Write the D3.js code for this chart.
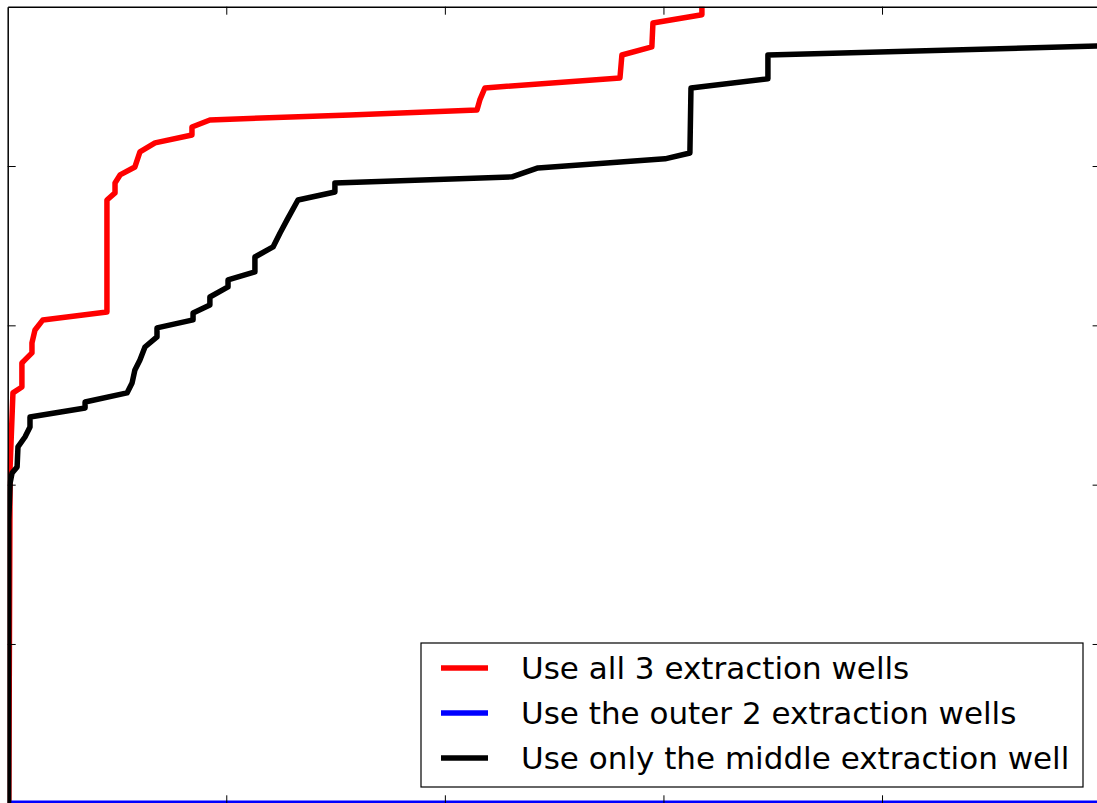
<!DOCTYPE html>
<html>
<head>
<meta charset="utf-8">
<script src="https://cdn.jsdelivr.net/npm/d3@7"></script>
<style>
  body { margin: 0; background: #fff; }
  svg { display: block; font-family: "DejaVu Sans", sans-serif; }
</style>
</head>
<body>
<div id="chartContainer"></div>
<script>
// series values (x, y in axis units 0..5)
const redX = [0.005, 0.011, 0.024, 0.065, 0.065, 0.079, 0.111, 0.111, 0.125, 0.161, 0.454, 0.454, 0.491, 0.491, 0.514, 0.582, 0.605, 0.674, 0.843, 0.843, 0.925, 1.566, 2.147, 2.160, 2.183, 2.801, 2.810, 2.947, 2.952, 3.176, 3.176];
const redY = [0, 2.111, 2.576, 2.613, 2.764, 2.783, 2.827, 2.890, 2.971, 3.034, 3.084, 3.787, 3.831, 3.894, 3.944, 3.994, 4.089, 4.145, 4.195, 4.245, 4.289, 4.321, 4.352, 4.415, 4.490, 4.553, 4.697, 4.748, 4.898, 4.949, 5.1];

const blueX = [0, 5];
const blueY = [0, 0];

const blackX = [0.004, 0.005, 0.011, 0.020, 0.043, 0.047, 0.079, 0.102, 0.102, 0.354, 0.354, 0.546, 0.569, 0.582, 0.605, 0.628, 0.683, 0.683, 0.848, 0.848, 0.925, 0.925, 1.008, 1.008, 1.131, 1.131, 1.214, 1.246, 1.278, 1.328, 1.497, 1.497, 2.307, 2.426, 3.007, 3.121, 3.126, 3.478, 3.478, 5.0];
const blackY = [0, 1.778, 2.011, 2.073, 2.111, 2.237, 2.299, 2.362, 2.425, 2.481, 2.519, 2.576, 2.638, 2.720, 2.783, 2.864, 2.927, 2.984, 3.034, 3.078, 3.128, 3.178, 3.241, 3.285, 3.335, 3.429, 3.492, 3.580, 3.662, 3.787, 3.837, 3.894, 3.932, 3.988, 4.045, 4.082, 4.490, 4.547, 4.697, 4.754];

const labels = ["Use all 3 extraction wells", "Use the outer 2 extraction wells", "Use only the middle extraction well"];
const colors = ["#ff0000", "#0000ff", "#000000"];
const tickVals = [1, 2, 3, 4];

const W = 1097, H = 803;
const x0 = 7.7, x1 = 1100.6, y0 = 6.7, y1 = 803.3;

const svg = d3.select("#chartContainer").append("svg")
  .attr("width", W).attr("height", H);

const x = d3.scaleLinear().domain([0, 5]).range([x0, x1]);
const y = d3.scaleLinear().domain([0, 5]).range([y1, y0]);

svg.append("defs").append("clipPath").attr("id", "plotclip")
  .append("rect").attr("x", x0).attr("y", y0).attr("width", x1 - x0).attr("height", y1 - y0);

const series = [
  { xs: redX, ys: redY },
  { xs: blueX, ys: blueY },
  { xs: blackX, ys: blackY },
];

const line = d3.line().x(d => x(d[0])).y(d => y(d[1]));

const plot = svg.append("g").attr("clip-path", "url(#plotclip)");
series.forEach((s, i) => {
  plot.append("path")
    .datum(s.xs.map((v, k) => [v, s.ys[k]]))
    .attr("d", line)
    .attr("fill", "none")
    .attr("stroke", colors[i])
    .attr("stroke-width", 5.5)
    .attr("stroke-linejoin", "round");
});

// axes: inward ticks on all four sides, no labels
const styleAxis = g => {
  g.selectAll(".domain").attr("stroke", "#000").attr("stroke-width", 1.5);
  g.selectAll(".tick line").attr("stroke", "#000").attr("stroke-width", 1);
};
svg.append("g").attr("transform", `translate(0,${y1})`)
  .call(d3.axisBottom(x).tickValues(tickVals).tickSizeInner(-8).tickSizeOuter(0).tickFormat(""))
  .call(styleAxis);
svg.append("g").attr("transform", `translate(0,${y0})`)
  .call(d3.axisTop(x).tickValues(tickVals).tickSizeInner(-8).tickSizeOuter(0).tickFormat(""))
  .call(styleAxis);
svg.append("g").attr("transform", `translate(${x0},0)`)
  .call(d3.axisLeft(y).tickValues(tickVals).tickSizeInner(-8).tickSizeOuter(0).tickFormat(""))
  .call(styleAxis);
svg.append("g").attr("transform", `translate(${x1},0)`)
  .call(d3.axisRight(y).tickValues(tickVals).tickSizeInner(-8).tickSizeOuter(0).tickFormat(""))
  .call(styleAxis);

// legend
const legend = svg.append("g").attr("transform", "translate(421,643)");
legend.append("rect")
  .attr("width", 662).attr("height", 144)
  .attr("fill", "#fff").attr("stroke", "#000").attr("stroke-width", 1.2);
labels.forEach((t, i) => {
  const ly = 25 + i * 45;
  legend.append("line")
    .attr("x1", 20).attr("x2", 67).attr("y1", ly).attr("y2", ly)
    .attr("stroke", colors[i]).attr("stroke-width", 5.5);
  legend.append("text")
    .attr("x", 100).attr("y", ly).attr("dy", "0.36em")
    .attr("font-size", 31).attr("fill", "#000")
    .text(t);
});
</script>
</body>
</html>
